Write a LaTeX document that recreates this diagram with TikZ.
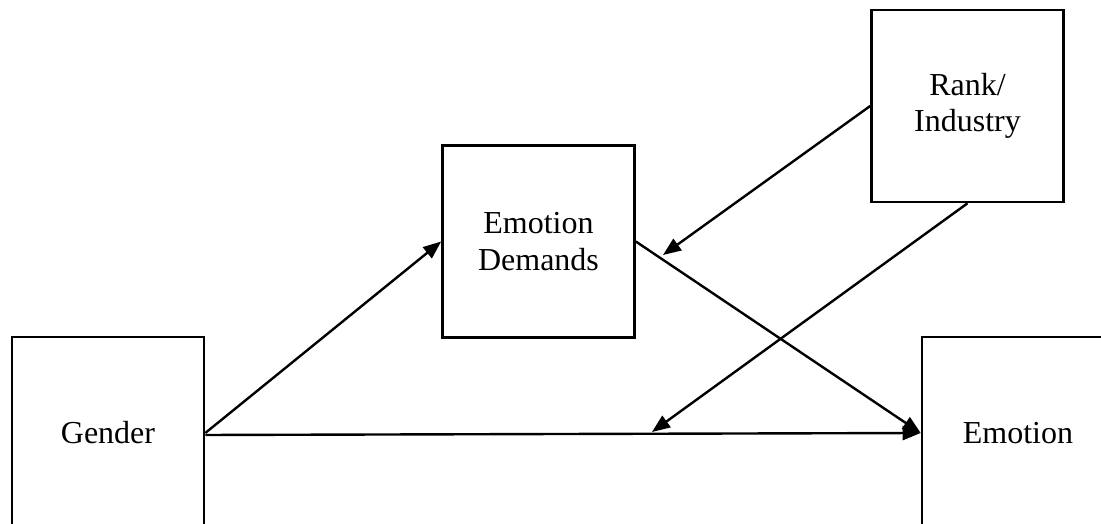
\documentclass[tikz,border=0pt]{standalone}
\usepackage{fontspec}
\setmainfont{Liberation Serif}
\usetikzlibrary{arrows.meta}

\begin{document}
\begin{tikzpicture}[
            x=1pt, y=1pt,
            varbox/.style={
            draw,
            line width=2.6pt,
            minimum width=192pt,
            minimum height=192pt,
            inner sep=0pt,
            align=center,
            font=\fontsize{32}{36.5}\selectfont
            },
            myarrow/.style={
            line width=2.4pt,
            -{Triangle[length=18pt,width=14pt]}
            }
            ]
            \useasboundingbox (0,0) rectangle (1101,524);
            \clip (0,0) rectangle (1101,524);
            \node[varbox] (gender) at (108,91) {Gender};
            \node[varbox] (demands) at (538.5,282.5) {Emotion\\Demands};
            \node[varbox] (rank) at (967.5,418) {Rank/\\Industry};
            \node[varbox] (emotion) at (1018,91) {Emotion};
            \coordinate (m1) at (663,269);
            \coordinate (m2) at (652,92);
            \path[myarrow]
            (gender.east) edge (demands.west)
            ([yshift=-2pt]gender.east) edge (emotion.west)
            (demands.east) edge (emotion.west)
            (rank.west) edge (m1)
            (rank.south) edge (m2);
        \end{tikzpicture}
\end{document}
